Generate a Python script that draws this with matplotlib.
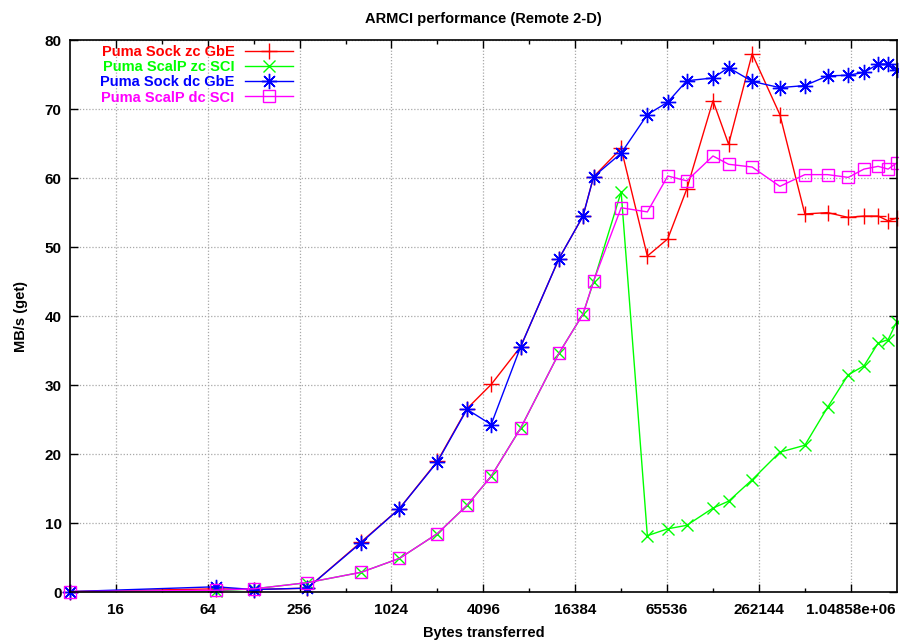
import matplotlib
matplotlib.use("Agg")
import matplotlib.pyplot as plt
from matplotlib.ticker import FixedLocator, FixedFormatter, NullFormatter

plt.rcParams['font.family'] = ['Liberation Sans', 'DejaVu Sans']
plt.rcParams['font.weight'] = 'bold'

# transfer sizes in bytes (8*n*n patches)
sizes = [8, 72, 128, 288, 648, 1152, 2048, 3200, 4608, 7200, 12800, 18432,
         21632, 32768, 48672, 66248, 88200, 131072, 165888, 236672, 359552,
         524288, 739328, 1008200, 1280000, 1584200, 1843200, 2097152]

sock_zc_gbe = [0.1, 0.5, 0.4, 0.6, 7.3, 12.1, 19.0, 26.6, 30.1, 35.6, 48.3,
               54.5, 60.2, 64.3, 48.7, 51.2, 58.4, 71.2, 64.9, 78.0, 69.2,
               54.8, 55.0, 54.3, 54.5, 54.5, 53.8, 54.2]
scalp_zc_sci = [0.1, 0.2, 0.5, 1.4, 2.9, 4.9, 8.5, 12.6, 16.8, 23.8, 34.6,
                40.3, 45.0, 58.0, 8.2, 9.2, 9.7, 12.2, 13.2, 16.3, 20.3,
                21.3, 26.8, 31.5, 32.8, 36.1, 36.6, 39.2]
sock_dc_gbe = [0.1, 0.8, 0.4, 0.6, 7.2, 12.1, 18.9, 26.5, 24.3, 35.6, 48.3,
               54.5, 60.2, 63.6, 69.2, 71.0, 74.1, 74.5, 76.0, 74.0, 73.1,
               73.4, 74.8, 74.9, 75.3, 76.5, 76.5, 75.6]
scalp_dc_sci = [0.1, 0.3, 0.5, 1.4, 2.9, 4.9, 8.5, 12.6, 16.8, 23.8, 34.6,
                40.3, 45.1, 55.7, 55.1, 60.3, 59.6, 63.2, 62.0, 61.6, 58.8,
                60.5, 60.5, 60.1, 61.3, 61.7, 61.3, 62.2]

labels = ['Puma Sock zc GbE', 'Puma ScalP zc SCI', 'Puma Sock dc GbE', 'Puma ScalP dc SCI']
colors = ['#ff0000', '#00ff00', '#0000ff', '#ff00ff']
# gnuplot-style point types: plus, cross, asterisk (+ and x), open box
markers = ['+', 'x', (8, 2, 0), 's']
msizes = [11, 9, 11, 8]

major_ticks = [16, 64, 256, 1024, 4096, 16384, 65536, 262144, 1048576]
major_labels = ['16', '64', '256', '1024', '4096', '16384', '65536', '262144', '1.04858e+06']
minor_ticks = [32, 128, 512, 2048, 8192, 32768, 131072, 524288]
y_ticks = [0, 10, 20, 30, 40, 50, 60, 70, 80]

fig = plt.figure(figsize=(8.99, 6.4), dpi=100)
ax = fig.add_axes([70 / 899, 1 - 592.3 / 640, 826.7 / 899, 552.3 / 640])

series = [sock_zc_gbe, scalp_zc_sci, sock_dc_gbe, scalp_dc_sci]
for vals, lab, col, mk, ms in zip(series, labels, colors, markers, msizes):
    face = 'none' if mk == 's' else col
    ax.plot(sizes, vals, color=col, marker=mk, markersize=ms, linewidth=1.0,
            markerfacecolor=face, markeredgecolor=col, markeredgewidth=1.0,
            label=lab, clip_on=False)

ax.set_xscale('log', base=2)
ax.set_xlim(8, 2097152)
ax.set_ylim(0, 80)

ax.xaxis.set_major_locator(FixedLocator(major_ticks))
ax.xaxis.set_major_formatter(FixedFormatter(major_labels))
ax.xaxis.set_minor_locator(FixedLocator(minor_ticks))
ax.xaxis.set_minor_formatter(NullFormatter())
ax.set_yticks(y_ticks)

ax.tick_params(which='both', direction='in', top=True, right=True,
               labelsize=11, width=1.0)
ax.tick_params(which='major', length=6, pad=8)
ax.tick_params(which='minor', length=3)
ax.tick_params(axis='y', pad=6)
for lbl in ax.get_xticklabels() + ax.get_yticklabels():
    lbl.set_fontweight('bold')

ax.grid(True, which='major', color='#a8a8a8', linestyle=(0, (1, 1.5)), linewidth=0.9)
ax.set_axisbelow(True)
for sp in ax.spines.values():
    sp.set_linewidth(1.2)

ax.set_title('ARMCI performance (Remote 2-D)', fontsize=10.5, fontweight='bold', pad=12)
ax.set_xlabel('Bytes transferred', fontsize=10.5, fontweight='bold', labelpad=6)
ax.set_ylabel('MB/s (get)', fontsize=10.5, fontweight='bold', labelpad=12)

leg = ax.legend(loc='upper right', bbox_to_anchor=(293 / 899, 1 - 45 / 640),
                bbox_transform=fig.transFigure, frameon=False, markerfirst=False,
                fontsize=10.5, handlelength=3.3, handletextpad=0.7,
                labelspacing=0.08, borderpad=0, borderaxespad=0,
                labelcolor='linecolor')
for t in leg.get_texts():
    t.set_fontweight('bold')

fig.savefig('out.png', dpi=100)
